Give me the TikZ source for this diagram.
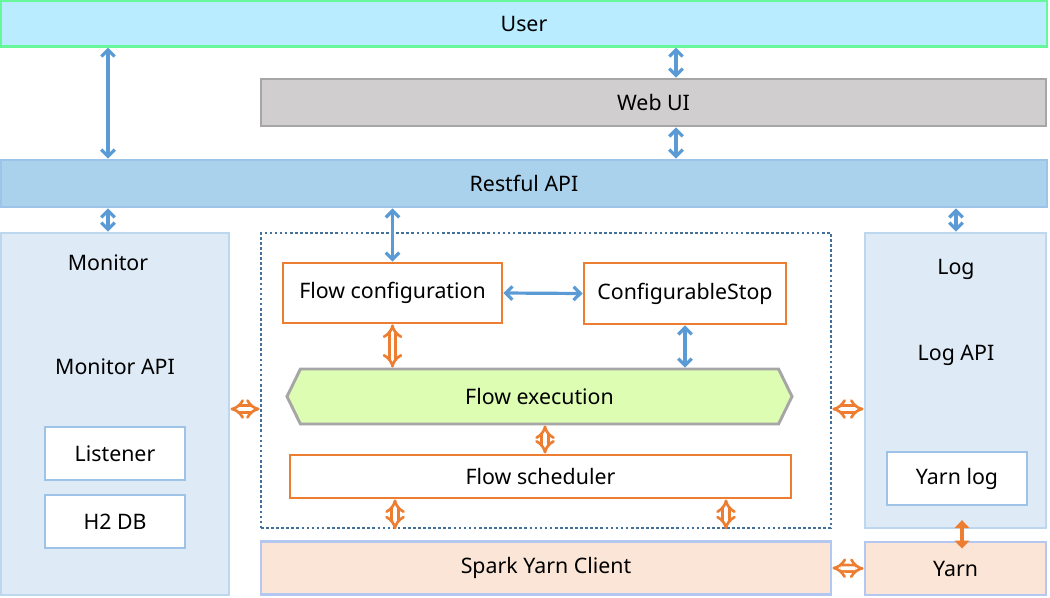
\documentclass[tikz,border=0pt]{standalone}
\usepackage{fontspec}
\setmainfont{Noto Sans}
\usetikzlibrary{positioning, arrows.meta, shapes.symbols}

\definecolor{userfill}{HTML}{B9ECFE}
\definecolor{userline}{HTML}{66F79A}
\definecolor{webfill}{HTML}{D0CECF}
\definecolor{greyline}{HTML}{A6A6A6}
\definecolor{restfill}{HTML}{ABD2EC}
\definecolor{restline}{HTML}{9DC3E6}
\definecolor{panelfill}{HTML}{DEEAF6}
\definecolor{panelline}{HTML}{BDD7EE}
\definecolor{dotline}{HTML}{41719C}
\definecolor{orng}{HTML}{ED7D31}
\definecolor{execfill}{HTML}{DDFDB3}
\definecolor{sparkfill}{HTML}{FBE5D6}
\definecolor{sparkline}{HTML}{B4C7F0}
\definecolor{blu}{HTML}{5B9BD5}

\begin{document}
\begin{tikzpicture}[
      x=0.75pt, y=-0.75pt,
      every node/.style={font=\fontsize{16}{18}\selectfont, inner sep=0pt},
      bar/.style={draw, line width=2.2pt, minimum height=34pt},
      panel/.style={draw=panelline, fill=panelfill, line width=2.2pt},
      subbox/.style={draw=restline, fill=white, line width=2.2pt, minimum width=105pt, minimum height=39.75pt},
      flowbox/.style={draw=orng, fill=white, line width=2.2pt},
      sparkbox/.style={draw=sparkline, fill=sparkfill, line width=2.2pt, minimum height=40pt},
      link/.style={draw=blu, line width=2.4pt, {Straight Barb[length=5pt,width=10pt]}-{Straight Barb[length=5pt,width=10pt]}},
      hollow/.style={draw=orng, double=white, double distance=2.8pt, line width=2pt, {Implies}-{Implies}},
      solidlink/.style={draw=orng, line width=3.5pt, {Triangle[length=6pt,width=11pt]}-{Triangle[length=6pt,width=11pt]}}
    ]
      \useasboundingbox (0,0) rectangle (1050,597);

      % top layers
      \node[bar, draw=userline, fill=userfill, minimum width=784.5pt] (user) at (524,23.5) {User};
      \node[bar, draw=greyline, fill=webfill, minimum width=588.75pt, minimum height=35.25pt] (webui) at (653.5,102.5) {Web UI};
      \node[bar, draw=restline, fill=restfill, minimum width=784.5pt, minimum height=35.25pt] (rest) at (524,183.5) {Restful API};

      % monitor side
      \node[panel, minimum width=171pt, minimum height=271.5pt] (mon) at (115,414) {};
      \node (montitle) at (108,263) {Monitor};
      \node (monapi) at (115,367) {Monitor API};
      \node[subbox] (listener) at (115,453.5) {Listener};
      \node[subbox] (h2db) at (115,521.5) {H2 DB};

      % flow part
      \node[draw=dotline, line width=2pt, dash pattern=on 2pt off 1.8pt, minimum width=427.5pt, minimum height=221.25pt] (core) at (546,380.5) {};
      \node[flowbox, minimum width=164.25pt, minimum height=45pt] (conf) at (392.5,293) {Flow configuration};
      \node[flowbox, minimum width=151.5pt, minimum height=45.75pt] (stop) at (685,293.5) {ConfigurableStop};
      \node[signal, signal to=east and west, signal pointer angle=128, draw=greyline, fill=execfill, line width=2.2pt,
            minimum width=378.75pt, minimum height=41.25pt] (exec) at (539.5,396.5) {Flow execution};
      \node[flowbox, minimum width=375.75pt, minimum height=32.25pt] (sched) at (540.5,476.5) {Flow scheduler};
      \node[sparkbox, minimum width=427.5pt] (spark) at (546,568) {Spark Yarn Client};

      % log side
      \node[panel, minimum width=135.75pt, minimum height=221.25pt] (log) at (955.5,380.5) {};
      \node (logtitle) at (956,269) {Log};
      \node (logapi) at (956,355) {Log API};
      \node[subbox] (yarnlog) at (957,478.5) {Yarn log};
      \node[sparkbox, minimum width=135.75pt, minimum height=39.75pt] (yarn) at (955.5,568.5) {Yarn};

      \coordinate (colweb) at (676,0);
      \coordinate (colexec) at (545,0);
      \coordinate (colsl) at (395,0);
      \coordinate (colsr) at (726,0);
      \coordinate (colyarn) at (962,0);
      \coordinate (midrow) at (0,409);

      \draw[link] (montitle |- user.south) -- (montitle |- rest.north);
      \draw[link] (colweb |- user.south) -- (colweb |- webui.north);
      \draw[link] (colweb |- webui.south) -- (colweb |- rest.north);
      \draw[link] (montitle |- rest.south) -- (montitle |- mon.north);
      \draw[link] (conf.north |- rest.south) -- (conf.north);
      \draw[link] (logtitle |- rest.south) -- (logtitle |- log.north);
      \draw[link] (conf.east) -- (stop.west);
      \draw[link] (stop.south) -- (stop.south |- exec.north);

      \draw[hollow] (conf.south) -- (conf.south |- exec.north);
      \draw[hollow] (colexec |- exec.south) -- (colexec |- sched.north);
      \draw[hollow] (colsl |- sched.south) -- (colsl |- core.south);
      \draw[hollow] (colsr |- sched.south) -- (colsr |- core.south);
      \draw[hollow] (mon.east |- midrow) -- (core.west |- midrow);
      \draw[hollow] (core.east |- midrow) -- (log.west |- midrow);
      \draw[hollow] (spark.east) -- (yarn.west);
      \draw[solidlink, shorten <=-7pt, shorten >=-6pt] (colyarn |- log.south) -- (colyarn |- yarn.north);
    \end{tikzpicture}
\end{document}
